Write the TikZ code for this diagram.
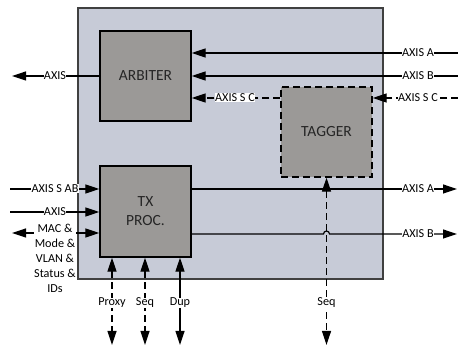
\documentclass[tikz,border=0pt]{standalone}
\usepackage{fontspec}
\setmainfont{Carlito}
\usetikzlibrary{arrows.meta}
\definecolor{outerfill}{RGB}{199,203,215}
\definecolor{boxfill}{RGB}{155,153,151}
\definecolor{outerline}{RGB}{64,64,64}
\tikzset{
  outerbox/.style={draw=outerline, line width=1.4pt, fill=outerfill, inner sep=0pt},
  blockbox/.style={draw=black, line width=1.4pt, fill=boxfill, inner sep=0pt,
    minimum width=91pt, minimum height=90pt, font=\fontsize{15.5}{19}\selectfont, align=center, text=black!85},
  conn/.style={line width=1.2pt, draw=black},
  tipR/.style={-{Triangle[length=14pt,width=9pt]}},
  tipB/.style={{Triangle[length=14pt,width=9pt]}-{Triangle[length=14pt,width=9pt]}},
  dsh/.style={dash pattern=on 7pt off 4pt},
  lbl/.style={fill=white, inner xsep=0.4pt, inner ysep=0.5pt, font=\fontsize{12.2}{15}\selectfont, align=center}
}
\begin{document}
\begin{tikzpicture}[x=1pt,y=-1pt]
\useasboundingbox (0,0) rectangle (458,347);
\node[outerbox, minimum width=305pt, minimum height=271pt] (outer) at (230.5,143.5) {};
\node[blockbox] (arb) at (145.5,76) {ARBITER};
\node[blockbox, dsh] (tag) at (326.5,132) {TAGGER};
\node[blockbox, minimum height=91pt] (tx) at (145.5,211.5) {TX\\PROC.};

% coordinates for free ends
\coordinate (inA) at (458,53);
\coordinate (inB) at (458,76);
\coordinate (inC) at (458,98);
\coordinate (outL) at (12,76);
\coordinate (outA) at (457,189);
\coordinate (outB) at (457,234);
\coordinate (inSAB) at (10,189);
\coordinate (inAX) at (10,212);
\coordinate (macL) at (12,233);
\coordinate (pB) at (112,345);
\coordinate (sB) at (145,345);
\coordinate (dB) at (180,345);
\coordinate (seqB) at (326.5,345);

% arbiter
\draw[conn,tipR] (inA) -- (inA -| arb.east);
\draw[conn,tipR] (inB) -- (inB -| arb.east);
\draw[conn,tipR,dsh] (inC) -- (inC -| tag.east);
\draw[conn,tipR,dsh] (tag.west |- inC) -- (inC -| arb.east);
\draw[conn,tipR] (arb.west) -- (outL);
\node[lbl] (lA) at (418,53) {AXIS A};
\node[lbl] (lB) at (418,76) {AXIS B};
\node[lbl] (lC) at (418,98) {AXIS S C};
\node[lbl] (lC2) at (235,98) {AXIS S C};
\node[lbl] (lL) at (55,76) {AXIS};

% tx proc outputs
\draw[conn,tipR] (tx.east |- outA) -- (outA);
\draw[conn,tipR] (tx.east |- outB) -- (323.5,234) arc (180:360:3) -- (outB);
\node[lbl] (lOA) at (418,189) {AXIS A};
\node[lbl] (lOB) at (418,234) {AXIS B};

% tx proc inputs
\draw[conn,tipR] (inSAB) -- (inSAB -| tx.west);
\draw[conn,tipR] (inAX) -- (inAX -| tx.west);
\draw[conn,tipB] (macL) -- (macL -| tx.west);
\node[lbl] (lSAB) at (55,189) {AXIS S AB};
\node[lbl] (lAX) at (55,212) {AXIS};
\node[lbl] (lMAC) at (55,258) {MAC \&\\Mode \&\\VLAN \&\\Status \&\\IDs};

% bottom
\draw[conn,tipB,dsh] (tx.south -| pB) -- (pB);
\draw[conn,tipB,dsh] (tx.south -| sB) -- (sB);
\draw[conn,tipB] (tx.south -| dB) -- (dB);
\draw[conn,tipB,dsh] (tag.south) -- (seqB);
\node[lbl] (lP) at (112,303) {Proxy};
\node[lbl] (lS) at (145,303) {Seq};
\node[lbl] (lD) at (180,303) {Dup};
\node[lbl] (lS2) at (326.5,303) {Seq};
\end{tikzpicture}
\end{document}
